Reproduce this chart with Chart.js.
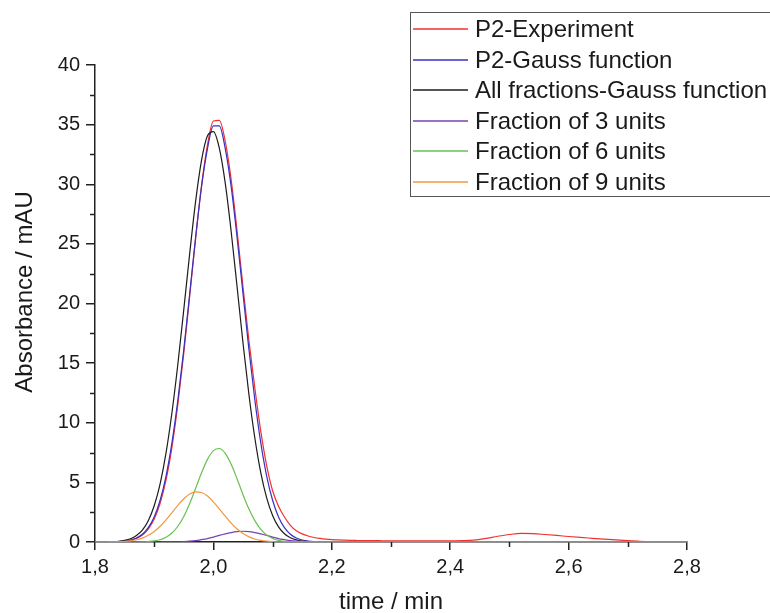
<!DOCTYPE html>
<html>
<head>
<meta charset="utf-8">
<script src="https://cdn.jsdelivr.net/npm/chart.js@4"></script>
<style>
  html, body { margin: 0; padding: 0; background: #fff; }
  canvas { display: block; }
</style>
</head>
<body>
<canvas id="chromatogram" width="770" height="613"></canvas>
<script>
// sample times (min): 0.01 steps up to 2.30, then 0.02 steps
const times = [
  1.80, 1.81, 1.82, 1.83, 1.84, 1.85, 1.86, 1.87, 1.88, 1.89,
  1.90, 1.91, 1.92, 1.93, 1.94, 1.95, 1.96, 1.97, 1.98, 1.99,
  2.00, 2.01, 2.02, 2.03, 2.04, 2.05, 2.06, 2.07, 2.08, 2.09,
  2.10, 2.11, 2.12, 2.13, 2.14, 2.15, 2.16, 2.17, 2.18, 2.19,
  2.20, 2.21, 2.22, 2.23, 2.24, 2.25, 2.26, 2.27, 2.28, 2.29, 2.30,
  2.32, 2.34, 2.36, 2.38, 2.40, 2.42, 2.44, 2.46, 2.48, 2.50,
  2.52, 2.54, 2.56, 2.58, 2.60, 2.62, 2.64, 2.66, 2.68, 2.70,
  2.72, 2.74, 2.76, 2.78, 2.80
];

const p2Experiment = [
  0, 0, 0.01, 0.01, 0.03, 0.07, 0.15, 0.30, 0.58, 1.08,
  1.92, 3.25, 5.20, 7.95, 11.55, 15.85, 20.65, 25.50, 29.90, 33.30,
  35.30, 35.35, 33.60, 30.40, 26.10, 21.40, 16.90, 12.90, 9.30, 6.40,
  4.30, 3.00, 2.10, 1.40, 0.95, 0.68, 0.50, 0.38, 0.30, 0.24,
  0.20, 0.18, 0.16, 0.14, 0.13, 0.12, 0.12, 0.11, 0.11, 0.10, 0.10,
  0.10, 0.09, 0.09, 0.09, 0.09, 0.11, 0.16, 0.30, 0.48, 0.63,
  0.72, 0.70, 0.63, 0.55, 0.46, 0.38, 0.31, 0.24, 0.17, 0.11,
  0.06, 0.03, 0.02, 0.01, 0.01
];

const p2Gauss = [
  0, 0, 0.01, 0.01, 0.03, 0.08, 0.17, 0.34, 0.65, 1.20,
  2.10, 3.50, 5.53, 8.33, 11.92, 16.15, 20.83, 25.55, 29.80, 32.99,
  34.90, 34.90, 32.99, 29.80, 25.55, 20.83, 16.15, 11.92, 8.33, 5.53,
  3.50, 2.10, 1.20, 0.65, 0.34, 0.17, 0.08, 0.03, 0.01, 0.01,
  0, 0, 0, 0, 0, 0, 0, 0, 0, 0, 0,
  0, 0, 0, 0, 0, 0, 0, 0, 0, 0,
  0, 0, 0, 0, 0, 0, 0, 0, 0, 0,
  0, 0, 0, 0, 0
];

const allFractionsGauss = [
  0, 0, 0.01, 0.03, 0.06, 0.13, 0.27, 0.54, 1.00, 1.79,
  3.04, 4.88, 7.47, 10.86, 14.93, 19.51, 24.21, 28.58, 32.02, 34.06,
  34.42, 33.03, 30.09, 26.04, 21.40, 16.69, 12.37, 8.72, 5.82, 3.70,
  2.23, 1.27, 0.69, 0.36, 0.18, 0.08, 0.04, 0.02, 0.01, 0,
  0, 0, 0, 0, 0, 0, 0, 0, 0, 0, 0,
  0, 0, 0, 0, 0, 0, 0, 0, 0, 0,
  0, 0, 0, 0, 0, 0, 0, 0, 0, 0,
  0, 0, 0, 0, 0
];

const fraction3 = [
  0, 0, 0, 0, 0, 0, 0, 0, 0, 0,
  0, 0, 0.01, 0.01, 0.02, 0.04, 0.07, 0.12, 0.20, 0.29,
  0.41, 0.55, 0.68, 0.79, 0.87, 0.90, 0.87, 0.79, 0.68, 0.55,
  0.41, 0.29, 0.20, 0.12, 0.07, 0.04, 0.02, 0.01, 0, 0,
  0, 0, 0, 0, 0, 0, 0, 0, 0, 0, 0,
  0, 0, 0, 0, 0, 0, 0, 0, 0, 0,
  0, 0, 0, 0, 0, 0, 0, 0, 0, 0,
  0, 0, 0, 0, 0
];

const fraction6 = [
  0, 0, 0, 0, 0, 0, 0, 0, 0.01, 0.04,
  0.09, 0.19, 0.40, 0.75, 1.32, 2.14, 3.23, 4.50, 5.80, 6.93,
  7.66, 7.84, 7.43, 6.51, 5.29, 3.97, 2.77, 1.79, 1.06, 0.59,
  0.30, 0.14, 0.06, 0.02, 0.01, 0, 0, 0, 0, 0,
  0, 0, 0, 0, 0, 0, 0, 0, 0, 0, 0,
  0, 0, 0, 0, 0, 0, 0, 0, 0, 0,
  0, 0, 0, 0, 0, 0, 0, 0, 0, 0,
  0, 0, 0, 0, 0
];

const fraction9 = [
  0, 0, 0, 0.01, 0.02, 0.05, 0.10, 0.19, 0.33, 0.56,
  0.88, 1.32, 1.86, 2.46, 3.08, 3.63, 4.03, 4.21, 4.15, 3.85,
  3.37, 2.78, 2.16, 1.58, 1.09, 0.71, 0.43, 0.25, 0.14, 0.07,
  0.03, 0.01, 0, 0, 0, 0, 0, 0, 0, 0,
  0, 0, 0, 0, 0, 0, 0, 0, 0, 0, 0,
  0, 0, 0, 0, 0, 0, 0, 0, 0, 0,
  0, 0, 0, 0, 0, 0, 0, 0, 0, 0,
  0, 0, 0, 0, 0
];

const seriesNames = [
  'P2-Experiment',
  'P2-Gauss function',
  'All fractions-Gauss function',
  'Fraction of 3 units',
  'Fraction of 6 units',
  'Fraction of 9 units'
];
const seriesValues = [p2Experiment, p2Gauss, allFractionsGauss, fraction3, fraction6, fraction9];
const seriesColors = ['#f23030', '#3a2fbf', '#1c1c1c', '#7a3fb6', '#67c152', '#f5963f'];

const xMajorTicks = [1.8, 2.0, 2.2, 2.4, 2.6, 2.8];
const xMinorTicks = [1.9, 2.1, 2.3, 2.5, 2.7];
const yMajorTicks = [0, 5, 10, 15, 20, 25, 30, 35, 40];
const yMinorTicks = [2.5, 7.5, 12.5, 17.5, 22.5, 27.5, 32.5, 37.5];

const yTitle = 'Absorbance / mAU';

const FONT = "'Liberation Sans', Arial, sans-serif";
const AXIS_COLOR = '#222';
const TEXT_COLOR = '#1a1a1a';

Chart.defaults.font.family = FONT;
Chart.defaults.color = TEXT_COLOR;

// short ticks between the labelled ones
const minorTicks = {
  id: 'minorTicks',
  afterDraw(chart) {
    const ctx = chart.ctx;
    const xs = chart.scales.x, ys = chart.scales.y;
    ctx.save();
    ctx.strokeStyle = AXIS_COLOR;
    ctx.lineWidth = 1.5;
    ctx.beginPath();
    xMinorTicks.forEach(v => {
      const px = Math.round(xs.getPixelForValue(v)) + 0.5;
      ctx.moveTo(px, xs.top);
      ctx.lineTo(px, xs.top + 5);
    });
    yMinorTicks.forEach(v => {
      const py = Math.round(ys.getPixelForValue(v)) + 0.5;
      ctx.moveTo(ys.right, py);
      ctx.lineTo(ys.right - 5, py);
    });
    ctx.stroke();

    // y title sits a little above the middle of the axis in the original
    ctx.fillStyle = TEXT_COLOR;
    ctx.font = '24px ' + FONT;
    ctx.textAlign = 'center';
    ctx.textBaseline = 'middle';
    ctx.translate(25, 292);
    ctx.rotate(-Math.PI / 2);
    ctx.fillText(yTitle, 0, 0);
    ctx.restore();
  }
};

// boxed legend in the top right corner
const boxLegend = {
  id: 'boxLegend',
  afterDraw(chart) {
    const ctx = chart.ctx;
    ctx.save();
    ctx.fillStyle = '#fff';
    ctx.fillRect(410.5, 12.5, 400, 184);
    ctx.strokeStyle = '#555';
    ctx.lineWidth = 1;
    ctx.strokeRect(410.5, 12.5, 400, 184);
    ctx.font = '24px ' + FONT;
    ctx.textBaseline = 'middle';
    chart.data.datasets.forEach((ds, i) => {
      const y = Math.round(29 + i * 30.5);
      ctx.strokeStyle = ds.borderColor;
      ctx.lineWidth = 1.3;
      ctx.beginPath();
      ctx.moveTo(413, y);
      ctx.lineTo(468, y);
      ctx.stroke();
      ctx.fillStyle = TEXT_COLOR;
      ctx.fillText(ds.label, 475, y + 1);
    });
    ctx.restore();
  }
};

const datasets = seriesNames.map((name, i) => ({
  label: name,
  data: times.map((t, j) => ({ x: t, y: seriesValues[i][j] })),
  borderColor: seriesColors[i],
  backgroundColor: seriesColors[i],
  borderWidth: 1.2,
  pointRadius: 0,
  cubicInterpolationMode: 'monotone',
  fill: false,
  order: seriesNames.length - 1 - i
}));

new Chart(document.getElementById('chromatogram'), {
  type: 'line',
  data: { datasets },
  options: {
    responsive: false,
    animation: false,
    layout: { padding: { left: 0, right: 83, top: 65, bottom: 0 } },
    plugins: {
      legend: { display: false },
      tooltip: { enabled: false }
    },
    scales: {
      x: {
        type: 'linear',
        min: 1.8,
        max: 2.8,
        afterBuildTicks: s => { s.ticks = xMajorTicks.map(v => ({ value: v })); },
        afterFit: s => { s.height = 71; },
        border: { display: true, color: AXIS_COLOR, width: 1.5 },
        grid: { drawOnChartArea: false, tickLength: 8, color: AXIS_COLOR, lineWidth: 1.5 },
        ticks: {
          font: { size: 20 },
          color: TEXT_COLOR,
          padding: 5,
          maxRotation: 0,
          callback: v => v.toFixed(1).replace('.', ',')
        },
        title: {
          display: true,
          text: 'time / min',
          font: { size: 24, lineHeight: 1 },
          color: TEXT_COLOR,
          padding: { top: 0, bottom: -1 }
        }
      },
      y: {
        type: 'linear',
        min: 0,
        max: 40,
        afterBuildTicks: s => { s.ticks = yMajorTicks.map(v => ({ value: v })); },
        afterFit: s => { s.width = 95; },
        border: { display: true, color: AXIS_COLOR, width: 1.5 },
        grid: { drawOnChartArea: false, tickLength: 9, color: AXIS_COLOR, lineWidth: 1.5 },
        ticks: {
          font: { size: 20 },
          color: TEXT_COLOR,
          padding: 6,
          callback: v => String(v)
        }
      }
    }
  },
  plugins: [minorTicks, boxLegend]
});
</script>
</body>
</html>
